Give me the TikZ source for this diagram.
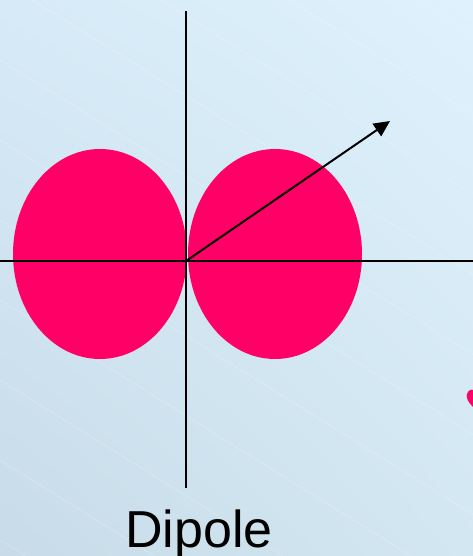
\documentclass[tikz,border=0pt]{standalone}
\usepackage{fontspec}
\setmainfont{Liberation Sans}
\usetikzlibrary{arrows.meta,shadings}
\definecolor{bgll}{HTML}{C7DCE8}
\definecolor{bgur}{HTML}{DEF1FC}
\definecolor{bgul}{HTML}{D6EBF7}
\definecolor{bglr}{HTML}{D3E7F2}
\definecolor{lobe}{HTML}{FF0066}
\tikzset{
  axis/.style={black, line width=1.7pt},
  vec/.style={black, line width=2pt, -{Triangle[length=16pt,width=15pt]}},
  lobefill/.style={fill=lobe, draw=none},
  stripe/.style={white, line width=0.6pt, opacity=0.25},
  label/.style={font=\fontsize{52}{62}\selectfont, inner sep=0pt}
}
\begin{document}
\begin{tikzpicture}[x=1pt,y=-1pt]
  \useasboundingbox (0,0) rectangle (473,556);
  \shade[lower left=bgll, upper right=bgur, upper left=bgul, lower right=bglr] (0,556) rectangle (473,0);
  % faint diagonal stripes
  \begin{scope}
    \clip (0,0) rectangle (473,556);
    \foreach \s in {-500,-420,...,560} {
      \draw[stripe] (0,\s) -- (900,\s+560);
    }
  \end{scope}
  % lobes
  \fill[lobefill] (100,254) ellipse [x radius=87, y radius=105];
  \fill[lobefill] (275,254) ellipse [x radius=87, y radius=105];
  % partial pink mark at right edge
  \fill[lobefill] (473,407) .. controls (468,402) and (466,398) .. (467,394)
     .. controls (468,390) and (472,389) .. (473,390) -- cycle;
  % axes
  \coordinate (O) at (186,261);
  \coordinate (vtop) at (186,11);
  \coordinate (vbot) at (186,488);
  \coordinate (hleft) at (0,261);
  \coordinate (hright) at (473,261);
  \coordinate (tip) at (390,121);
  \draw[axis] (vtop) -- (vbot);
  \draw[axis] (hleft) -- (hright);
  \draw[vec] (O) -- (tip);
  \node[label, anchor=base] (title) at (199,547) {Dipole};
\end{tikzpicture}
\end{document}
